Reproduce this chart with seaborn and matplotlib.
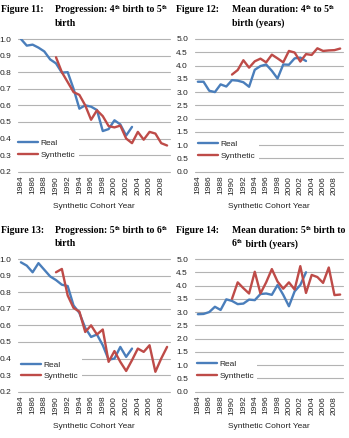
import matplotlib
matplotlib.use("Agg")
import matplotlib.pyplot as plt
import seaborn as sns
import pandas as pd
import numpy as np

# ---------------- data ----------------
years_real = list(range(1984, 2004))
years_syn = list(range(1990, 2010))

prog45_real = [1.00, 0.96, 0.966, 0.948, 0.925, 0.877, 0.853, 0.797, 0.80, 0.70,
               0.58, 0.60, 0.592, 0.572, 0.445, 0.457, 0.51, 0.485, 0.418, 0.47]
prog45_syn = [0.89, 0.80, 0.74, 0.68, 0.663, 0.60, 0.513, 0.57, 0.535, 0.475,
              0.467, 0.478, 0.40, 0.372, 0.44, 0.393, 0.44, 0.43, 0.372, 0.358]

dur45_real = [3.39, 3.39, 3.05, 3.00, 3.29, 3.21, 3.45, 3.43, 3.37, 3.20,
              3.84, 3.98, 4.04, 3.80, 3.51, 4.04, 4.03, 4.27, 4.30, 4.17]
dur45_syn = [3.66, 3.83, 4.20, 3.92, 4.16, 4.26, 4.12, 4.41, 4.27, 4.12,
             4.55, 4.49, 4.15, 4.43, 4.40, 4.65, 4.55, 4.57, 4.58, 4.64]

prog56_real = [0.98, 0.96, 0.92, 0.975, 0.935, 0.895, 0.873, 0.845, 0.837, 0.72,
               0.675, 0.585, 0.53, 0.545, 0.48, 0.393, 0.40, 0.47, 0.41, 0.46]
prog56_syn = [0.92, 0.94, 0.78, 0.705, 0.683, 0.56, 0.60, 0.545, 0.575, 0.38,
              0.445, 0.38, 0.325, 0.39, 0.46, 0.44, 0.48, 0.32, 0.40, 0.47]

dur56_real = [2.92, 2.93, 3.00, 3.20, 3.08, 3.48, 3.42, 3.30, 3.32, 3.47,
              3.45, 3.68, 3.70, 3.65, 4.02, 3.65, 3.22, 3.78, 4.02, 4.50]
dur56_syn = [3.50, 4.12, 3.90, 3.70, 4.52, 3.70, 4.12, 4.62, 4.15, 3.88,
             4.12, 3.85, 4.73, 3.72, 4.40, 4.32, 4.10, 4.68, 3.64, 3.66]

xtick_years = list(range(1984, 2010, 2))

# ---------------- style ----------------
sns.set_style("white")
plt.rcParams['font.family'] = ['Liberation Sans', 'DejaVu Sans']

BLUE = '#4A7EBB'
RED = '#BE4B48'
GRID = '#B3B3B3'
FS = 6.0

W, H = 349, 438
fig = plt.figure(figsize=(W / 100, H / 100), dpi=100)
renderer = fig.canvas.get_renderer()


def px_axes(left, top, right, bottom):
    return fig.add_axes([left / W, 1 - bottom / H, (right - left) / W, (bottom - top) / H])


def panel(ax, real, syn, ymin, ymax, ystep, fmt, leg_x, leg_y):
    df = pd.concat([
        pd.DataFrame({'year': years_real, 'value': real, 'series': 'Real'}),
        pd.DataFrame({'year': years_syn, 'value': syn, 'series': 'Synthetic'}),
    ])
    sns.lineplot(data=df, x='year', y='value', hue='series',
                 palette={'Real': BLUE, 'Synthetic': RED}, linewidth=1.7,
                 ax=ax, legend=True)
    ax.set_xlim(1983.5, 2009.5)
    ax.set_ylim(ymin, ymax)
    yt = np.arange(ymin, ymax + ystep / 2, ystep)
    ax.set_yticks(yt)
    ax.set_yticklabels([fmt.format(v) for v in yt], fontsize=FS, color='#222222')
    ax.set_xticks(xtick_years)
    ax.set_xticklabels([str(y) for y in xtick_years], rotation=90, fontsize=FS,
                       color='#222222')
    ax.tick_params(axis='both', length=0)
    ax.tick_params(axis='y', pad=5)
    ax.tick_params(axis='x', pad=3)
    for s in ax.spines.values():
        s.set_visible(False)
    for v in yt:
        ax.axhline(v, color=GRID, lw=0.8, zorder=0, clip_on=False)
    ax.set_xlabel('Synthetic Cohort Year', fontsize=FS, color='#222222', labelpad=6)
    ax.set_ylabel('')
    leg = ax.legend(loc='center left', bbox_to_anchor=(leg_x, leg_y),
                    fontsize=FS, frameon=True, facecolor='white', edgecolor='none',
                    framealpha=1, handlelength=2.4, handletextpad=0.3,
                    borderpad=0.4, borderaxespad=0, labelspacing=0.45)
    for line in leg.get_lines():
        line.set_linewidth(1.7)
    leg.set_zorder(5)


ax1 = px_axes(18, 39, 170, 171.7)
panel(ax1, prog45_real, prog45_syn, 0.2, 1.0, 0.1, '{:.1f}', -0.02, 0.17)
ax2 = px_axes(195, 39, 343, 171.7)
panel(ax2, dur45_real, dur45_syn, 0.0, 5.0, 0.5, '{:.1f}', 0.0, 0.165)
ax3 = px_axes(18, 259, 170, 391.7)
panel(ax3, prog56_real, prog56_syn, 0.2, 1.0, 0.1, '{:.1f}', 0.0, 0.16)
ax4 = px_axes(195, 259, 343, 391.7)
panel(ax4, dur56_real, dur56_syn, 0.0, 5.0, 0.5, '{:.1f}', -0.01, 0.165)

TFS = 7.0
SFS = 4.4


def rich(x, y, parts):
    """parts: list of (text, is_super). x,y in pixels from top-left (y = baseline)."""
    cx = x
    for txt, sup in parts:
        t = fig.text(cx / W, 1 - (y - (3.5 if sup else 0)) / H, txt,
                     fontsize=SFS if sup else TFS, fontweight='bold',
                     family='Liberation Serif', va='baseline', ha='left',
                     color='black')
        bb = t.get_window_extent(renderer=renderer)
        cx += bb.width


def title(x0, x1, y, num, line1, line2):
    rich(x0, y, [(num, False)])
    rich(x1, y, line1)
    rich(x1, y + 13.5, line2)


title(1, 55, 12.5, 'Figure 11:',
      [('Progression: 4', False), ('th', True), (' birth to 5', False), ('th', True)],
      [('birth', False)])
title(176, 232, 12.5, 'Figure 12:',
      [('Mean duration: 4', False), ('th', True), (' to 5', False), ('th', True)],
      [('birth (years)', False)])
title(1, 55, 233, 'Figure 13:',
      [('Progression: 5', False), ('th', True), (' birth to 6', False), ('th', True)],
      [('birth', False)])
title(176, 232, 233, 'Figure 14:',
      [('Mean duration: 5', False), ('th', True), (' birth to', False)],
      [('6', False), ('th', True), (' birth (years)', False)])

fig.savefig('out.png', dpi=100)
